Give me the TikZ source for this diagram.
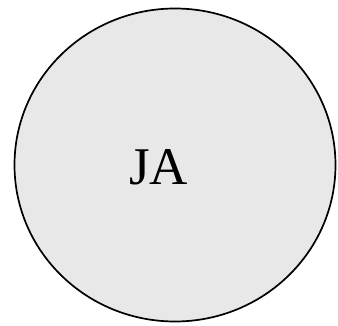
\documentclass[tikz,border=0pt]{standalone}
\usepackage{fontspec}
\setmainfont{Liberation Serif}
\usetikzlibrary{shapes.geometric, positioning}
\definecolor{blobgray}{HTML}{E8E8E8}

\begin{document}
\begin{tikzpicture}[x=1pt, y=-1pt,
  blob/.style={ellipse, draw=black, fill=blobgray, line width=1.7pt, minimum width=321pt, minimum height=313pt, inner sep=0pt},
  tag/.style={font=\fontsize{53}{60}\selectfont, inner sep=0pt}]

\useasboundingbox (0,0) rectangle (338,326);

\node[blob] (circ) at (175,165) {};
\node[tag, anchor=base] (ja) at (158.5,185) {JA};

\end{tikzpicture}
\end{document}
